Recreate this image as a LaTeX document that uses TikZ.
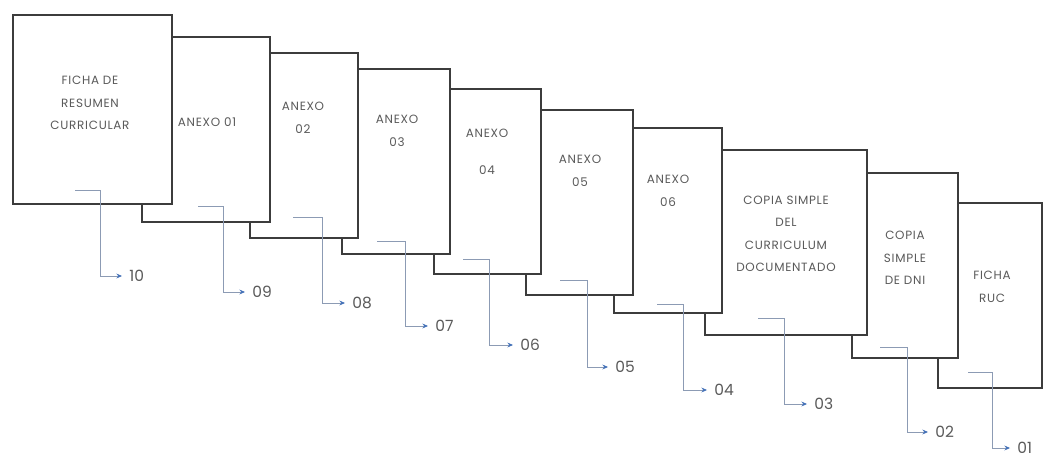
\documentclass[tikz,border=0pt]{standalone}
\usepackage{fontspec}
\newfontfamily\docfont[LetterSpace=6]{Poppins}
\newfontfamily\numfont{Poppins}
\usetikzlibrary{arrows.meta}
\definecolor{pageline}{RGB}{60,60,60}
\definecolor{linkline}{RGB}{140,155,180}
\definecolor{tipblue}{RGB}{70,115,185}
\definecolor{labelgray}{RGB}{90,90,90}

\begin{document}
\begin{tikzpicture}[
    x=0.025cm, y=-0.025cm,
    >=Stealth,
    page/.style={draw=pageline, line width=0.9pt, fill=white, anchor=north west, minimum height=4.625cm, inner sep=0pt, outer sep=0pt},
    pagetext/.style={font=\docfont\fontsize{8.5}{16}\selectfont, text=labelgray, align=center, inner sep=0pt},
    numlabel/.style={font=\numfont\fontsize{11}{13}\selectfont, text=labelgray, anchor=west, inner xsep=5pt, inner ysep=0pt},
    linkarrow/.style={-{Stealth[length=4pt,width=3.5pt,color=tipblue]}, draw=linkline, line width=0.6pt},
]

% ---- Frame ----
\fill[white] (0,0) rectangle (1044,460);
\useasboundingbox (0,0) rectangle (1044,460);

% ---- Pages, back to front ----
\node[page, minimum width=2.6cm] (p10) at (938,203) {};
\node[page, minimum width=2.65cm] (p9) at (852,173) {};
\node[page, minimum width=4.05cm] (p8) at (705,150) {};
\node[page, minimum width=2.7cm] (p7) at (614,128) {};
\node[page, minimum width=2.675cm] (p6) at (526,110) {};
\node[page, minimum width=2.675cm] (p5) at (434,89) {};
\node[page, minimum width=2.7cm] (p4) at (342,69) {};
\node[page, minimum width=2.7cm] (p3) at (250,53) {};
\node[page, minimum width=3.2cm] (p2) at (142,37) {};
\node[page, minimum width=3.975cm, minimum height=4.725cm] (p1) at (13,15) {};

% ---- Page titles ----
\node[pagetext] (t1) at (90,103) {FICHA DE\\RESUMEN\\CURRICULAR};
\node[pagetext] (t2) at (207,122) {ANEXO 01};
\node[pagetext] (t3) at (303,118) {ANEXO\\02};
\node[pagetext] (t4) at (397,131) {ANEXO\\03};
\node[pagetext] (t5) at (487,152) {ANEXO\\[10pt]04};
\node[pagetext] (t6) at (580,171) {ANEXO\\05};
\node[pagetext] (t7) at (668,191) {ANEXO\\06};
\node[pagetext] (t8) at (786,234) {COPIA SIMPLE\\DEL\\CURRICULUM\\DOCUMENTADO};
\node[pagetext] (t9) at (905,258) {COPIA\\SIMPLE\\DE DNI};
\node[pagetext] (t10) at (992,287) {FICHA\\RUC};

% ---- Numbers ----
\node[numlabel] (n10) at (122,276) {10};
\node[numlabel] (n09) at (245,292) {09};
\node[numlabel] (n08) at (345,303) {08};
\node[numlabel] (n07) at (428,326) {07};
\node[numlabel] (n06) at (513,345) {06};
\node[numlabel] (n05) at (608,367) {05};
\node[numlabel] (n04) at (707,390) {04};
\node[numlabel] (n03) at (807,404) {03};
\node[numlabel] (n02) at (928,432) {02};
\node[numlabel] (n01) at (1010,448) {01};

% ---- Links from each page to its number ----
\coordinate (c1) at (75,190);
\coordinate (c2) at (198,206);
\coordinate (c3) at (293,217);
\coordinate (c4) at (377,241);
\coordinate (c5) at (463,259);
\coordinate (c6) at (560,280);
\coordinate (c7) at (657,304);
\coordinate (c8) at (758,318);
\coordinate (c9) at (880,347);
\coordinate (c10) at (968,372);

\draw[linkarrow] (c1) -- ++(25,0) |- (n10.west);
\draw[linkarrow] (c2) -- ++(25,0) |- (n09.west);
\draw[linkarrow] (c3) -- ++(29,0) |- (n08.west);
\draw[linkarrow] (c4) -- ++(28,0) |- (n07.west);
\draw[linkarrow] (c5) -- ++(26,0) |- (n06.west);
\draw[linkarrow] (c6) -- ++(27,0) |- (n05.west);
\draw[linkarrow] (c7) -- ++(26,0) |- (n04.west);
\draw[linkarrow] (c8) -- ++(26,0) |- (n03.west);
\draw[linkarrow] (c9) -- ++(27,0) |- (n02.west);
\draw[linkarrow] (c10) -- ++(24,0) |- (n01.west);

\end{tikzpicture}
\end{document}
